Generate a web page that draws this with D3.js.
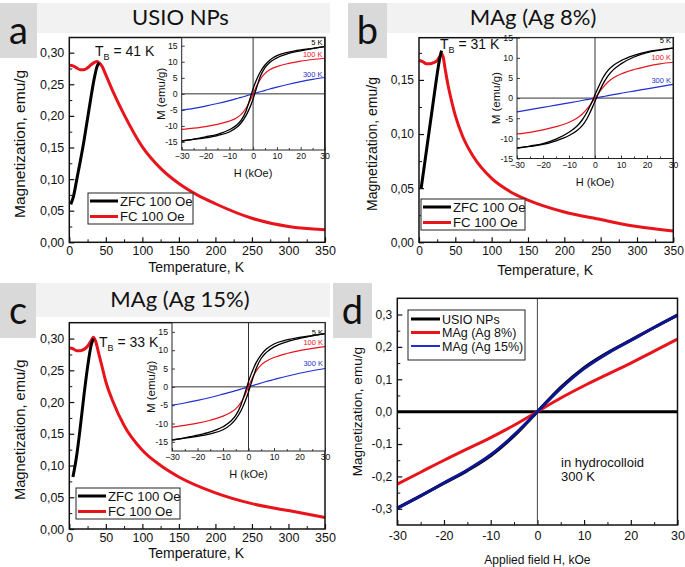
<!DOCTYPE html>
<html>
<head>
<meta charset="utf-8">
<script src="https://cdn.jsdelivr.net/npm/d3@7"></script>
<style>
  body { margin: 0; background: #fff; }
  svg text { font-family: "Liberation Sans", Arial, sans-serif; fill: #111; }
  .ttl { font-family: Lato, "Open Sans", sans-serif; }
</style>
</head>
<body>
<svg id="fig" width="685" height="567"></svg>
<script>
/* ===== DATA ===== */

// ZFC / FC curves, panel a (USIO NPs)
const tempA_zfc = [2, 6, 10, 15, 20, 25, 30, 35, 38, 41];
const magA_zfc  = [0.060, 0.074, 0.098, 0.128, 0.160, 0.196, 0.232, 0.264, 0.278, 0.284];
const tempA_fc  = [0, 5, 10, 15, 20, 25, 30, 35, 38, 41, 45, 50, 60, 75, 100, 125, 150, 175, 200, 250, 300, 350];
const magA_fc   = [0.280, 0.279, 0.276, 0.273, 0.273, 0.276, 0.281, 0.285, 0.286, 0.284, 0.278, 0.265, 0.238, 0.202, 0.151, 0.117, 0.093, 0.075, 0.061, 0.038, 0.025, 0.020];

// panel b (MAg, Ag 8%)
const tempB_zfc = [3, 8, 13, 18, 23, 28, 31];
const magB_zfc  = [0.050, 0.074, 0.098, 0.122, 0.146, 0.168, 0.177];
const tempB_fc  = [0, 5, 10, 15, 20, 25, 28, 31, 33, 36, 40, 45, 50, 60, 75, 100, 125, 150, 200, 250, 300, 350];
const magB_fc   = [0.168, 0.167, 0.165, 0.165, 0.166, 0.168, 0.171, 0.174, 0.172, 0.160, 0.145, 0.130, 0.117, 0.098, 0.079, 0.059, 0.047, 0.039, 0.028, 0.021, 0.0145, 0.0105];

// panel c (MAg, Ag 15%)
const tempC_zfc = [5, 10, 15, 20, 25, 30, 33];
const magC_zfc  = [0.082, 0.115, 0.160, 0.210, 0.255, 0.290, 0.300];
const tempC_fc  = [0, 5, 10, 15, 20, 25, 30, 33, 36, 40, 45, 50, 60, 75, 100, 125, 150, 200, 250, 300, 350];
const magC_fc   = [0.285, 0.284, 0.281, 0.281, 0.283, 0.288, 0.297, 0.302, 0.296, 0.278, 0.255, 0.232, 0.200, 0.163, 0.124, 0.100, 0.082, 0.057, 0.040, 0.029, 0.018];

// hysteresis insets, field grid in kOe
const fieldInset = [-30, -25, -20, -15, -10, -7, -5, -3, -2, -1, 0, 1, 2, 3, 5, 7, 10, 15, 20, 25, 30];

const insetA_5K_up   = [-14.7, -14.1, -13.4, -12.6, -11.2, -9.8, -8.2, -5.4, -3.2, -0.8, 1.6, 3.6, 5.3, 6.8, 9.0, 10.5, 11.9, 13.0, 13.7, 14.2, 14.7];
const insetA_5K_down = [-14.7, -14.2, -13.7, -13.0, -11.9, -10.5, -9.0, -6.8, -5.3, -3.6, -1.6, 0.8, 3.2, 5.4, 8.2, 9.8, 11.2, 12.6, 13.4, 14.1, 14.7];
const insetA_100K    = [-11.1, -10.7, -10.2, -9.5, -8.5, -7.5, -6.4, -4.5, -3.2, -1.7, 0, 1.7, 3.2, 4.5, 6.4, 7.5, 8.5, 9.5, 10.2, 10.7, 11.1];
const insetA_300K    = [-5.1, -4.5, -3.8, -3.0, -2.1, -1.5, -1.1, -0.66, -0.44, -0.22, 0, 0.22, 0.44, 0.66, 1.1, 1.5, 2.1, 3.0, 3.8, 4.5, 5.1];

const insetB_5K_up   = [-12.4, -11.9, -11.3, -10.2, -8.5, -7.0, -5.5, -3.4, -2.1, -0.7, 0.8, 2.3, 3.7, 5.0, 6.9, 8.1, 9.3, 10.6, 11.5, 12.0, 12.4];
const insetB_5K_down = [-12.4, -12.0, -11.5, -10.6, -9.3, -8.1, -6.9, -5.0, -3.7, -2.3, -0.8, 0.7, 2.1, 3.4, 5.5, 7.0, 8.5, 10.2, 11.3, 11.9, 12.4];
const insetB_100K    = [-8.9, -8.5, -7.9, -7.1, -6.0, -5.0, -4.0, -2.6, -1.8, -0.9, 0, 0.9, 1.8, 2.6, 4.0, 5.0, 6.0, 7.1, 7.9, 8.5, 8.9];
const insetB_300K    = [-3.4, -2.85, -2.3, -1.75, -1.2, -0.85, -0.6, -0.36, -0.24, -0.12, 0, 0.12, 0.24, 0.36, 0.6, 0.85, 1.2, 1.75, 2.3, 2.85, 3.4];

const insetC_5K_up   = [-14.5, -13.9, -13.2, -12.3, -10.9, -9.4, -7.8, -5.0, -3.0, -0.8, 1.4, 3.4, 5.1, 6.6, 8.8, 10.3, 11.7, 12.8, 13.5, 14.0, 14.5];
const insetC_5K_down = [-14.5, -14.0, -13.5, -12.8, -11.7, -10.3, -8.8, -6.6, -5.1, -3.4, -1.4, 0.8, 3.0, 5.0, 7.8, 9.4, 10.9, 12.3, 13.2, 13.9, 14.5];
const insetC_100K    = [-11.0, -10.5, -9.9, -9.1, -8.0, -7.0, -6.0, -4.3, -3.1, -1.6, 0, 1.6, 3.1, 4.3, 6.0, 7.0, 8.0, 9.1, 9.9, 10.5, 11.0];
const insetC_300K    = [-5.0, -4.4, -3.7, -2.9, -2.0, -1.45, -1.05, -0.63, -0.42, -0.21, 0, 0.21, 0.42, 0.63, 1.05, 1.45, 2.0, 2.9, 3.7, 4.4, 5.0];

// panel d, hydrocolloid at 300 K
const fieldD    = [-30, -25, -20, -15, -10, -5, 0, 5, 10, 15, 20, 25, 30];
const magD_usio = [-0.298, -0.260, -0.221, -0.182, -0.136, -0.075, 0, 0.075, 0.136, 0.182, 0.221, 0.260, 0.298];
const magD_ag8  = [-0.224, -0.187, -0.150, -0.115, -0.080, -0.042, 0, 0.042, 0.080, 0.115, 0.150, 0.187, 0.224];
const magD_ag15 = [-0.298, -0.260, -0.220, -0.180, -0.133, -0.072, 0, 0.072, 0.133, 0.180, 0.220, 0.260, 0.298];

const panelTitles = ['USIO NPs', 'MAg (Ag 8%)', 'MAg (Ag 15%)'];
const blockingTemps = [41, 31, 33];
const legendZfc = ['ZFC 100 Oe', 'FC 100 Oe'];
const legendD = ['USIO NPs', 'MAg (Ag 8%)', 'MAg (Ag 15%)'];

/* ===== HELPERS ===== */

const svg = d3.select('#fig');
const RED = '#e8141c', BLUE = '#1f2fd0', NAVY = '#0d168f';

const commaFmt = p => d => d3.format('.' + p + 'f')(d).replace('.', ',').replace('\u2212', '-');
const zip = (xs, ys) => xs.map((v, i) => [v, ys[i]]);

function styleAxis(sel, w) {
    sel.select('.domain').remove();
    sel.selectAll('.tick line').attr('stroke', '#111').attr('stroke-width', w);
}

/* main ZFC/FC panel */
function zfcPanel(cfg) {
    const g = svg.append('g');
    const x = d3.scaleLinear().domain([0, 350]).range([cfg.l, cfg.r]);
    const y = d3.scaleLinear().domain([0, cfg.yMax]).range([cfg.b, cfg.t]);

    // axes, all ticks pointing inward
    const gx = g.append('g').attr('transform', `translate(0,${cfg.b})`)
        .call(d3.axisBottom(x).tickValues(d3.range(0, 351, 50)).tickSize(-5).tickPadding(4));
    styleAxis(gx, 1.2);
    gx.selectAll('text').attr('font-size', cfg.tickFs);
    const gxm = g.append('g').attr('transform', `translate(0,${cfg.b})`)
        .call(d3.axisBottom(x).tickValues(d3.range(25, 350, 50)).tickSize(-3).tickFormat(''));
    styleAxis(gxm, 1);

    const gy = g.append('g').attr('transform', `translate(${cfg.l},0)`)
        .call(d3.axisLeft(y).tickValues(cfg.yTicks).tickSize(-5).tickPadding(5).tickFormat(commaFmt(2)));
    styleAxis(gy, 1.2);
    gy.selectAll('text').attr('font-size', cfg.tickFs);
    const gym = g.append('g').attr('transform', `translate(${cfg.l},0)`)
        .call(d3.axisLeft(y).tickValues(cfg.yTicks.map(v => v + 0.025).filter(v => v < cfg.yMax)).tickSize(-3).tickFormat(''));
    styleAxis(gym, 1);

    // curves
    const line = d3.line().x(d => x(d[0])).y(d => y(d[1])).curve(d3.curveMonotoneX);
    g.append('path').datum(zip(cfg.fcT, cfg.fcM))
        .attr('d', line).attr('fill', 'none').attr('stroke', RED).attr('stroke-width', 3);
    g.append('path').datum(zip(cfg.zfcT, cfg.zfcM))
        .attr('d', line).attr('fill', 'none').attr('stroke', '#000').attr('stroke-width', 3);

    // T_B label
    const tb = g.append('text').attr('x', cfg.tbX).attr('y', cfg.tbY).attr('font-size', 14);
    tb.append('tspan').text('T');
    tb.append('tspan').attr('font-size', 9).attr('dy', 4).text('B');
    tb.append('tspan').attr('dy', -4).text(` = ${cfg.tB} K`);

    // legend
    const lg = g.append('g').attr('transform', `translate(${cfg.lgX},${cfg.lgY})`);
    lg.append('rect').attr('width', cfg.lgW).attr('height', 31)
        .attr('fill', '#fff').attr('stroke', '#222').attr('stroke-width', 1);
    legendZfc.forEach((name, i) => {
        const yy = 8 + i * 15.5;
        lg.append('line').attr('x1', 2).attr('x2', 30).attr('y1', yy).attr('y2', yy)
            .attr('stroke', i ? RED : '#000').attr('stroke-width', 3);
        lg.append('text').attr('x', 32).attr('y', yy + 4.5).attr('font-size', 13.2).text(name);
    });

    // axis titles
    g.append('text').attr('x', (cfg.l + cfg.r) / 2 - 1).attr('y', cfg.b + cfg.xLabDy)
        .attr('text-anchor', 'middle').attr('font-size', 14).text('Temperature, K');
    g.append('text').attr('transform', `translate(${cfg.yLabX},${(cfg.t + cfg.b) / 2 + 4}) rotate(-90)`)
        .attr('text-anchor', 'middle').attr('font-size', cfg.yLabFs).text('Magnetization, emu/g');

    cfg.inset();

    // frame on top of inset
    g.append('rect').attr('x', cfg.l).attr('y', cfg.t).attr('width', cfg.r - cfg.l).attr('height', cfg.b - cfg.t)
        .attr('fill', 'none').attr('stroke', '#111').attr('stroke-width', 1.5);
}

/* hysteresis inset */
function hystInset(cfg) {
    const g = svg.append('g');
    const x = d3.scaleLinear().domain([-30, 30]).range([cfg.l, cfg.r]);
    const y = d3.scaleLinear().domain([-cfg.yLim, cfg.yLim]).range([cfg.b, cfg.t]);

    g.append('rect').attr('x', cfg.l).attr('y', cfg.t).attr('width', cfg.r - cfg.l).attr('height', cfg.b - cfg.t)
        .attr('fill', '#fff');

    const gx = g.append('g').attr('transform', `translate(0,${cfg.b})`)
        .call(d3.axisBottom(x).tickValues(d3.range(-30, 31, 10)).tickSize(-3).tickPadding(3));
    styleAxis(gx, 0.8);
    gx.selectAll('text').attr('font-size', 8.7);
    const gxm = g.append('g').attr('transform', `translate(0,${cfg.b})`)
        .call(d3.axisBottom(x).tickValues(d3.range(-25, 30, 10)).tickSize(-2).tickFormat(''));
    styleAxis(gxm, 0.8);

    const gy = g.append('g').attr('transform', `translate(${cfg.l},0)`)
        .call(d3.axisLeft(y).tickValues(d3.range(-15, 16, 5)).tickSize(-3).tickPadding(4)
            .tickFormat(d => String(d)));
    styleAxis(gy, 0.8);
    gy.selectAll('text').attr('font-size', 8.7);

    // zero lines
    g.append('line').attr('x1', x(0)).attr('x2', x(0)).attr('y1', cfg.t).attr('y2', cfg.b)
        .attr('stroke', '#333').attr('stroke-width', 1);
    g.append('line').attr('x1', cfg.l).attr('x2', cfg.r).attr('y1', y(0)).attr('y2', y(0))
        .attr('stroke', '#333').attr('stroke-width', 1);

    const line = d3.line().x(d => x(d[0])).y(d => y(d[1])).curve(d3.curveMonotoneX);
    const series = [
        [cfg.m300, BLUE, 1.2],
        [cfg.m100, RED, 1.2],
        [cfg.up5, '#000', 1.3],
        [cfg.down5, '#000', 1.3]
    ];
    series.forEach(([m, col, w]) => {
        g.append('path').datum(zip(fieldInset, m)).attr('d', line)
            .attr('fill', 'none').attr('stroke', col).attr('stroke-width', w);
    });

    g.append('rect').attr('x', cfg.l).attr('y', cfg.t).attr('width', cfg.r - cfg.l).attr('height', cfg.b - cfg.t)
        .attr('fill', 'none').attr('stroke', '#222').attr('stroke-width', 1);

    // temperature tags
    [['5 K', '#000', cfg.tag5], ['100 K', RED, cfg.tag100], ['300 K', BLUE, cfg.tag300]].forEach(([t, c, yy]) => {
        g.append('text').attr('x', cfg.r - 2).attr('y', yy).attr('text-anchor', 'end')
            .attr('font-size', 7.5).style('fill', c).text(t);
    });

    g.append('text').attr('x', (cfg.l + cfg.r) / 2).attr('y', cfg.b + 27)
        .attr('text-anchor', 'middle').attr('font-size', 11).text('H (kOe)');
    g.append('text').attr('transform', `translate(${cfg.l - 17},${(cfg.t + cfg.b) / 2}) rotate(-90)`)
        .attr('text-anchor', 'middle').attr('font-size', 11.5).text('M (emu/g)');
}

/* ===== PANELS ===== */

zfcPanel({
    l: 69.3, r: 325, t: 37.5, b: 242.3, yMax: 0.324, yTicks: d3.range(0, 0.31, 0.05),
    zfcT: tempA_zfc, zfcM: magA_zfc, fcT: tempA_fc, fcM: magA_fc, tickFs: 12.5, yLabFs: 15.5,
    tB: blockingTemps[0], tbX: 95, tbY: 56, lgX: 88, lgY: 193, lgW: 105, yLabX: 25, xLabDy: 30,
    inset: () => hystInset({
        l: 181.7, r: 324.5, t: 37.7, b: 150, yLim: 17.5,
        up5: insetA_5K_up, down5: insetA_5K_down, m100: insetA_100K, m300: insetA_300K,
        tag5: 45, tag100: 57, tag300: 77
    })
});

zfcPanel({
    l: 419, r: 673.3, t: 37.7, b: 242.3, yMax: 0.189, yTicks: d3.range(0, 0.16, 0.05),
    zfcT: tempB_zfc, zfcM: magB_zfc, fcT: tempB_fc, fcM: magB_fc, tickFs: 12, yLabFs: 14,
    tB: blockingTemps[1], tbX: 440, tbY: 49, lgX: 421, lgY: 199, lgW: 104, yLabX: 377, xLabDy: 33,
    inset: () => hystInset({
        l: 517, r: 673, t: 37.7, b: 158.5, yLim: 15,
        up5: insetB_5K_up, down5: insetB_5K_down, m100: insetB_100K, m300: insetB_300K,
        tag5: 43, tag100: 60, tag300: 83
    })
});

zfcPanel({
    l: 69.3, r: 325, t: 322.7, b: 529, yMax: 0.325, yTicks: d3.range(0, 0.31, 0.05),
    zfcT: tempC_zfc, zfcM: magC_zfc, fcT: tempC_fc, fcM: magC_fc, tickFs: 12.5, yLabFs: 14.7,
    tB: blockingTemps[2], tbX: 99, tbY: 347, lgX: 76, lgY: 488, lgW: 104, yLabX: 25, xLabDy: 29,
    inset: () => hystInset({
        l: 172, r: 325, t: 322.7, b: 451, yLim: 17.5,
        up5: insetC_5K_up, down5: insetC_5K_down, m100: insetC_100K, m300: insetC_300K,
        tag5: 335, tag100: 345, tag300: 366
    })
});

// panel d
(function () {
    const l = 397.3, r = 677.5, t = 298.3, b = 525;
    const g = svg.append('g');
    const x = d3.scaleLinear().domain([-30, 30]).range([l, r]);
    const y = d3.scaleLinear().domain([-0.35, 0.35]).range([b, t]);

    const gx = g.append('g').attr('transform', `translate(0,${b})`)
        .call(d3.axisBottom(x).tickValues(d3.range(-30, 31, 10)).tickSize(-5).tickPadding(6)
            .tickFormat(d => String(d)));
    styleAxis(gx, 1.2);
    gx.selectAll('text').attr('font-size', 12.5);
    const gxm = g.append('g').attr('transform', `translate(0,${b})`)
        .call(d3.axisBottom(x).tickValues(d3.range(-25, 30, 10)).tickSize(-3).tickFormat(''));
    styleAxis(gxm, 1);

    const yt = [-0.3, -0.2, -0.1, 0, 0.1, 0.2, 0.3];
    const gy = g.append('g').attr('transform', `translate(${l},0)`)
        .call(d3.axisLeft(y).tickValues(yt).tickSize(-5).tickPadding(5).tickFormat(commaFmt(1)));
    styleAxis(gy, 1.2);
    gy.selectAll('text').attr('font-size', 12);
    const gym = g.append('g').attr('transform', `translate(${l},0)`)
        .call(d3.axisLeft(y).tickValues([-0.25, -0.15, -0.05, 0.05, 0.15, 0.25]).tickSize(-3).tickFormat(''));
    styleAxis(gym, 1);

    g.append('line').attr('x1', x(0)).attr('x2', x(0)).attr('y1', t).attr('y2', b)
        .attr('stroke', '#444').attr('stroke-width', 1);
    g.append('line').attr('x1', l).attr('x2', r).attr('y1', y(0)).attr('y2', y(0))
        .attr('stroke', '#000').attr('stroke-width', 3);

    const line = d3.line().x(d => x(d[0])).y(d => y(d[1])).curve(d3.curveMonotoneX);
    [[magD_usio, '#000'], [magD_ag8, RED], [magD_ag15, NAVY]].forEach(([m, c]) => {
        g.append('path').datum(zip(fieldD, m)).attr('d', line)
            .attr('fill', 'none').attr('stroke', c).attr('stroke-width', 3);
    });

    g.append('rect').attr('x', l).attr('y', t).attr('width', r - l).attr('height', b - t)
        .attr('fill', 'none').attr('stroke', '#111').attr('stroke-width', 1.5);

    const lg = g.append('g').attr('transform', 'translate(408,310)');
    lg.append('rect').attr('width', 117).attr('height', 50)
        .attr('fill', '#fff').attr('stroke', '#222').attr('stroke-width', 1);
    [['#000', 3], [RED, 3], [BLUE, 2]].forEach(([c, w], i) => {
        const yy = 9 + i * 13.5;
        lg.append('line').attr('x1', 3).attr('x2', 32).attr('y1', yy).attr('y2', yy)
            .attr('stroke', c).attr('stroke-width', w);
        lg.append('text').attr('x', 34).attr('y', yy + 4.5).attr('font-size', 12.5).text(legendD[i]);
    });

    g.append('text').attr('x', 561).attr('y', 467).attr('font-size', 13).text('in hydrocolloid');
    g.append('text').attr('x', 561).attr('y', 481).attr('font-size', 13).text('300 K');

    g.append('text').attr('x', (l + r) / 2).attr('y', 564).attr('text-anchor', 'middle')
        .attr('font-size', 12).text('Applied field H, kOe');
    g.append('text').attr('transform', `translate(362,${(t + b) / 2}) rotate(-90)`)
        .attr('text-anchor', 'middle').attr('font-size', 13.5).text('Magnetization, emu/g');
})();

/* ===== BANNERS & PANEL LETTERS (drawn last) ===== */
const banners = [
    { x: 37, y: 3, w: 293, h: 30, title: panelTitles[0] },
    { x: 387, y: 3, w: 298, h: 30, title: panelTitles[1] },
    { x: 36, y: 283, w: 294, h: 34, title: panelTitles[2] }
];
banners.forEach(bn => {
    svg.append('rect').attr('x', bn.x).attr('y', bn.y).attr('width', bn.w).attr('height', bn.h).attr('fill', '#f2f2f2');
    svg.append('text').attr('class', 'ttl').attr('x', bn.x + bn.w / 2 - 3).attr('y', bn.y + bn.h / 2 + 7)
        .attr('text-anchor', 'middle').attr('font-size', 22).style('fill', '#111').text(bn.title);
});
const letters = [
    { x: 0, y: 3, w: 37, h: 55, t: 'a' },
    { x: 348, y: 3, w: 39, h: 55, t: 'b' },
    { x: 0, y: 283, w: 36, h: 55, t: 'c' },
    { x: 333, y: 283, w: 39, h: 55, t: 'd' }
];
letters.forEach(lt => {
    svg.append('rect').attr('x', lt.x).attr('y', lt.y).attr('width', lt.w).attr('height', lt.h).attr('fill', '#d9d9d9');
    svg.append('text').attr('class', 'ttl').attr('x', lt.x + lt.w / 2).attr('y', lt.y + 41)
        .attr('text-anchor', 'middle').attr('font-size', 38).style('fill', '#111').text(lt.t);
});
</script>
</body>
</html>
